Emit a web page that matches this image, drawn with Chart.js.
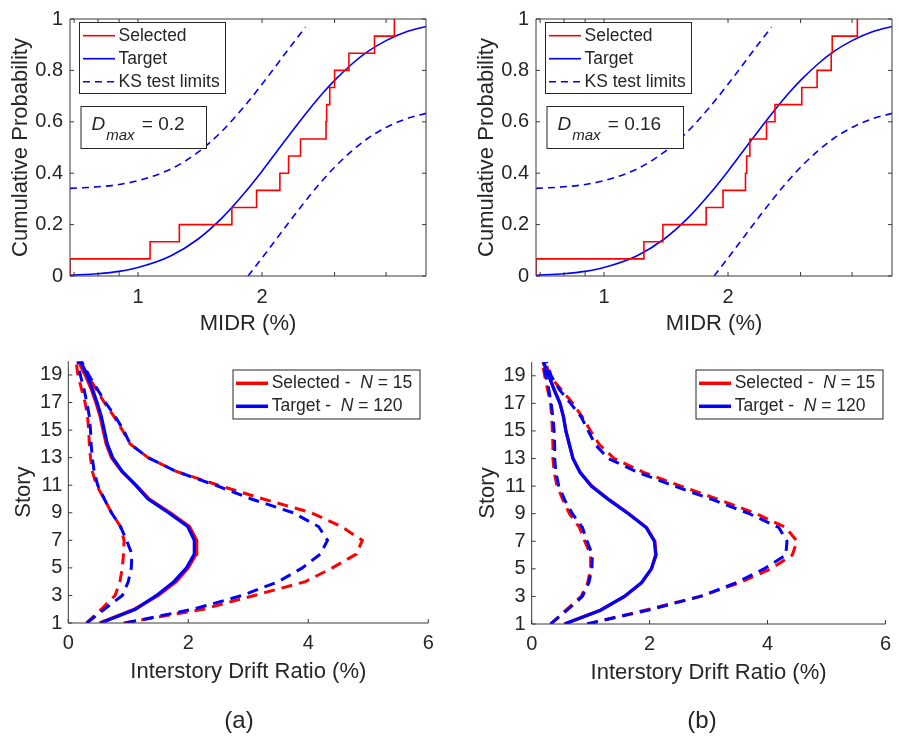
<!DOCTYPE html>
<html>
<head>
<meta charset="utf-8">
<script src="https://cdn.jsdelivr.net/npm/chart.js@4.4.1/dist/chart.umd.min.js"></script>
<style>
body { margin: 0; background: #fff; overflow: hidden; }
#wrap { position: relative; width: 899px; height: 738px; }
canvas { position: absolute; }
.tag { position: absolute; font-family: "Liberation Sans", Arial, sans-serif; font-size: 24px; color: #262626; transform: translate(-50%, -50%); }
</style>
</head>
<body>
<div id="wrap">
  <canvas id="cdfA" width="450" height="345" style="left:0;top:0"></canvas>
  <canvas id="cdfB" width="433" height="345" style="left:466px;top:0"></canvas>
  <canvas id="prfA" width="450" height="398" style="left:0;top:340px"></canvas>
  <canvas id="prfB" width="436" height="398" style="left:463px;top:340px"></canvas>
  <div class="tag" style="left:239px;top:720px">(a)</div>
  <div class="tag" style="left:702px;top:720px">(b)</div>
</div>
<script>
// ---- CDF panels: MIDR (%) on a log axis ----
var midrMin = 0.684, midrMax = 5;
var midrTicks = [0.7, 0.8, 0.9, 1, 2, 3, 4];
var midrLabels = [1, 2];
var probTicks = [0, 0.2, 0.4, 0.6, 0.8, 1];

var targetX = [0.684, 0.8, 0.9, 1.0, 1.2, 1.4, 1.6, 1.8, 2.0, 2.2, 2.4, 2.6, 2.8, 3.0, 3.3, 3.6, 4.0, 4.5, 5.0];
var targetP = [0.003, 0.009, 0.018, 0.033, 0.078, 0.144, 0.226, 0.317, 0.408, 0.496, 0.576, 0.647, 0.709, 0.761, 0.824, 0.872, 0.916, 0.951, 0.971];

var ksUpperX = [0.684, 0.8, 0.9, 1.0, 1.2, 1.4, 1.6, 1.8, 2.0, 2.2, 2.4, 2.55];
var ksUpperP = [0.341, 0.347, 0.356, 0.371, 0.416, 0.482, 0.564, 0.655, 0.746, 0.834, 0.914, 0.968];
var ksLowerX = [1.85, 2.0, 2.2, 2.4, 2.6, 2.8, 3.0, 3.3, 3.6, 4.0, 4.5, 5.0];
var ksLowerP = [0.0, 0.070, 0.158, 0.238, 0.309, 0.371, 0.423, 0.486, 0.534, 0.578, 0.613, 0.633];

// MIDR of the 15 selected records, sorted
var selectedA = [0.684, 1.07, 1.26, 1.69, 1.94, 2.21, 2.32, 2.48, 2.86, 2.87, 2.92, 3.0, 3.25, 3.75, 4.19];
var selectedB = [0.684, 1.25, 1.39, 1.77, 1.945, 2.205, 2.22, 2.26, 2.48, 2.6, 3.02, 3.29, 3.56, 3.58, 4.12];
var dmaxA = '0.2';
var dmaxB = '0.16';

// ---- Story drift profiles ----
var stories = [1, 2, 3, 4, 5, 6, 7, 8, 9, 10, 11, 12, 13, 14, 15, 16, 17, 18, 19, 20];
var storyTicks = [1, 3, 5, 7, 9, 11, 13, 15, 17, 19];
var driftTicks = [0, 2, 4, 6];
var nSelected = 15, nTarget = 120;

var tgtMedA = [0.54, 1.12, 1.47, 1.76, 1.97, 2.10, 2.10, 1.99, 1.67, 1.33, 1.12, 0.90, 0.74, 0.65, 0.60, 0.55, 0.48, 0.40, 0.31, 0.20];
var selMedA = [0.52, 1.10, 1.50, 1.80, 2.00, 2.13, 2.14, 2.02, 1.70, 1.35, 1.13, 0.89, 0.72, 0.63, 0.58, 0.53, 0.46, 0.38, 0.28, 0.17];
var tgtLoA  = [0.31, 0.60, 0.90, 1.00, 1.05, 1.06, 0.97, 0.87, 0.72, 0.60, 0.49, 0.43, 0.40, 0.38, 0.37, 0.35, 0.31, 0.26, 0.20, 0.16];
var selLoA  = [0.30, 0.55, 0.78, 0.86, 0.90, 0.92, 0.93, 0.87, 0.72, 0.60, 0.47, 0.40, 0.37, 0.35, 0.34, 0.32, 0.28, 0.22, 0.16, 0.13];
var tgtHiA  = [0.95, 2.08, 2.90, 3.50, 3.90, 4.20, 4.32, 4.17, 3.75, 3.05, 2.45, 1.80, 1.33, 1.03, 0.92, 0.78, 0.62, 0.48, 0.34, 0.22];
var selHiA  = [0.92, 2.25, 3.10, 3.95, 4.40, 4.80, 4.90, 4.55, 4.05, 3.25, 2.50, 1.80, 1.33, 1.03, 0.90, 0.76, 0.60, 0.46, 0.32, 0.20];

var tgtMedB = [0.56, 1.17, 1.57, 1.86, 2.03, 2.11, 2.08, 1.94, 1.64, 1.31, 1.01, 0.82, 0.70, 0.64, 0.58, 0.54, 0.48, 0.38, 0.29, 0.20];
var selMedB = [0.55, 1.16, 1.58, 1.87, 2.03, 2.10, 2.09, 1.95, 1.65, 1.32, 1.02, 0.82, 0.70, 0.64, 0.58, 0.54, 0.48, 0.38, 0.29, 0.19];
var tgtLoB  = [0.32, 0.60, 0.86, 0.97, 1.02, 1.03, 0.94, 0.86, 0.69, 0.56, 0.46, 0.41, 0.39, 0.39, 0.38, 0.36, 0.33, 0.29, 0.24, 0.19];
var selLoB  = [0.32, 0.58, 0.84, 0.95, 1.00, 1.00, 0.90, 0.81, 0.64, 0.53, 0.43, 0.38, 0.36, 0.36, 0.35, 0.34, 0.32, 0.27, 0.22, 0.18];
var tgtHiB  = [0.94, 1.97, 2.86, 3.47, 3.94, 4.31, 4.33, 4.19, 3.69, 3.08, 2.42, 1.80, 1.30, 1.08, 0.96, 0.84, 0.66, 0.47, 0.33, 0.25];
var selHiB  = [0.94, 1.92, 2.86, 3.53, 4.06, 4.42, 4.50, 4.31, 3.81, 3.19, 2.53, 1.90, 1.40, 1.15, 1.00, 0.86, 0.70, 0.50, 0.30, 0.24];

var FONT = '"Liberation Sans", Arial, Helvetica, sans-serif';
var INK = '#262626';
var RED = '#ff0000', BLUE = '#0000ff';
Chart.defaults.font.family = FONT;
Chart.defaults.color = INK;

function pts(xs, ys) {
  return xs.map(function(x, i){ return {x: x, y: ys[i]}; });
}
function ecdf(vals) {
  var out = [{x: vals[0], y: 0}];
  vals.forEach(function(v, i){ out.push({x: v, y: (i + 1) / vals.length}); });
  return out;
}
function profile(drift) {
  return drift.map(function(d, i){ return {x: d, y: stories[i]}; });
}

// axes box, inward tick marks, legend and text boxes
function decor(cfg) {
  return {
    id: 'decor',
    afterDraw: function(chart) {
      var ctx = chart.ctx, a = chart.chartArea;
      var xs = chart.scales.x, ys = chart.scales.y;
      var L = 4;
      ctx.save();
      ctx.strokeStyle = '#3a3a3a';
      ctx.lineWidth = 1;
      ctx.beginPath();
      ctx.moveTo(a.left, a.top);
      ctx.lineTo(a.left, a.bottom);
      ctx.lineTo(a.right, a.bottom);
      if (cfg.box) { ctx.lineTo(a.right, a.top); ctx.closePath(); }
      xs.ticks.forEach(function(t){
        var px = xs.getPixelForValue(t.value);
        ctx.moveTo(px, a.bottom); ctx.lineTo(px, a.bottom - L);
        if (cfg.box) { ctx.moveTo(px, a.top); ctx.lineTo(px, a.top + L); }
      });
      ys.ticks.forEach(function(t){
        var py = ys.getPixelForValue(t.value);
        ctx.moveTo(a.left, py); ctx.lineTo(a.left + L, py);
        if (cfg.box) { ctx.moveTo(a.right, py); ctx.lineTo(a.right - L, py); }
      });
      ctx.stroke();

      // legend
      var lg = cfg.legend;
      ctx.fillStyle = '#fff';
      ctx.fillRect(lg.x, lg.y, lg.w, lg.h);
      ctx.strokeStyle = INK;
      ctx.strokeRect(lg.x + 0.5, lg.y + 0.5, lg.w, lg.h);
      ctx.textBaseline = 'middle';
      lg.rows.forEach(function(r){
        ctx.beginPath();
        ctx.setLineDash(r.dash || []);
        ctx.lineWidth = r.width;
        ctx.strokeStyle = r.color;
        ctx.moveTo(lg.lx0, r.y); ctx.lineTo(lg.lx1, r.y);
        ctx.stroke();
        ctx.setLineDash([]);
        var x = lg.tx;
        ctx.fillStyle = INK;
        r.parts.forEach(function(p){
          ctx.font = (p.it ? 'italic ' : '') + '17.5px ' + FONT;
          ctx.fillText(p.t, x, r.y);
          x += ctx.measureText(p.t).width;
        });
      });

      // D_max box
      if (cfg.dmax) {
        var d = cfg.dmax;
        ctx.fillStyle = '#fff';
        ctx.fillRect(d.x, d.y, d.w, d.h);
        ctx.strokeStyle = INK;
        ctx.lineWidth = 1;
        ctx.strokeRect(d.x + 0.5, d.y + 0.5, d.w, d.h);
        ctx.fillStyle = INK;
        ctx.textBaseline = 'alphabetic';
        var tx = d.x + 11;
        ctx.font = 'italic 19px ' + FONT;
        ctx.fillText('D', tx, d.y + 24);
        tx += ctx.measureText('D').width + 1;
        ctx.font = 'italic 15px ' + FONT;
        ctx.fillText('max', tx, d.y + 33.5);
        tx += ctx.measureText('max').width + 2;
        ctx.font = '19px ' + FONT;
        ctx.fillText(' = ' + d.text, tx, d.y + 24);
      }
      ctx.restore();
    }
  };
}

function cdfChart(id, selected, dmax, dmaxW) {
  return new Chart(document.getElementById(id), {
    type: 'scatter',
    data: {
      datasets: [
        { label: 'Selected', data: ecdf(selected), showLine: true, stepped: 'before',
          borderColor: RED, borderWidth: 1.6, pointRadius: 0, order: 0 },
        { label: 'Target', data: pts(targetX, targetP), showLine: true, cubicInterpolationMode: 'monotone',
          borderColor: BLUE, borderWidth: 1.6, pointRadius: 0, order: 1 },
        { label: 'KS test limits', data: pts(ksUpperX, ksUpperP), showLine: true, cubicInterpolationMode: 'monotone',
          borderColor: BLUE, borderWidth: 1.6, borderDash: [7, 5], pointRadius: 0, order: 2 },
        { label: 'KS lower', data: pts(ksLowerX, ksLowerP), showLine: true, cubicInterpolationMode: 'monotone',
          borderColor: BLUE, borderWidth: 1.6, borderDash: [7, 5], pointRadius: 0, order: 3 }
      ]
    },
    options: {
      responsive: false,
      animation: false,
      layout: { padding: { left: 0, top: 14, right: id === 'cdfA' ? 24 : 7, bottom: 0 } },
      plugins: { legend: { display: false }, tooltip: { enabled: false } },
      scales: {
        x: {
          type: 'logarithmic', min: midrMin, max: midrMax,
          grid: { display: false, drawTicks: false }, border: { display: false },
          afterBuildTicks: function(s){ s.ticks = midrTicks.map(function(v){ return {value: v}; }); },
          afterFit: function(s){ s.height = 69; },
          ticks: { autoSkip: false, maxRotation: 0, padding: 9, font: { size: 20 },
                   callback: function(v){ return midrLabels.indexOf(v) >= 0 ? String(v) : ''; } },
          title: { display: true, text: 'MIDR (%)', font: { size: 22 }, padding: { top: 0, bottom: 8 } }
        },
        y: {
          min: 0, max: 1,
          grid: { display: false, drawTicks: false }, border: { display: false },
          afterBuildTicks: function(s){ s.ticks = probTicks.map(function(v){ return {value: v}; }); },
          afterFit: function(s){ s.width = 70; },
          ticks: { autoSkip: false, padding: 7, font: { size: 20 },
                   callback: function(v){ return String(v); } },
          title: { display: true, text: 'Cumulative Probability', font: { size: 22 }, padding: { top: 8, bottom: 0 } }
        }
      }
    },
    plugins: [decor({
      box: true,
      legend: { x: 79, y: 22, w: 146, h: 71, lx0: 83, lx1: 115, tx: 118.5, rows: [
        { color: RED, width: 1.6, y: 35.7, parts: [{t: 'Selected'}] },
        { color: BLUE, width: 1.6, y: 58.7, parts: [{t: 'Target'}] },
        { color: BLUE, width: 1.6, dash: [7, 5], y: 81.7, parts: [{t: 'KS test limits'}] }
      ]},
      dmax: { x: 80.5, y: 106, w: dmaxW, h: 42, text: dmax }
    })]
  });
}

function profileChart(id, series, pad, yWidth, yTitlePad) {
  var solid = { showLine: true, pointRadius: 0, borderWidth: 3.2, tension: 0 };
  var dashed = { showLine: true, pointRadius: 0, borderWidth: 3, borderDash: [11, 7], tension: 0 };
  function ds(base, color, drift, order) {
    return Object.assign({}, base, { data: profile(drift), borderColor: color, order: order });
  }
  return new Chart(document.getElementById(id), {
    type: 'scatter',
    data: {
      datasets: [
        ds(solid, RED, series.selMed, 3),
        ds(dashed, RED, series.selLo, 4),
        ds(dashed, RED, series.selHi, 5),
        ds(solid, BLUE, series.tgtMed, 0),
        ds(dashed, BLUE, series.tgtLo, 1),
        ds(dashed, BLUE, series.tgtHi, 2)
      ]
    },
    options: {
      responsive: false,
      animation: false,
      layout: { padding: pad },
      plugins: { legend: { display: false }, tooltip: { enabled: false } },
      scales: {
        x: {
          type: 'linear', min: 0, max: 6,
          grid: { display: false, drawTicks: false }, border: { display: false },
          afterBuildTicks: function(s){ s.ticks = driftTicks.map(function(v){ return {value: v}; }); },
          afterFit: function(s){ s.height = 64; },
          ticks: { autoSkip: false, maxRotation: 0, padding: 8, font: { size: 20 } },
          title: { display: true, text: 'Interstory Drift Ratio (%)', font: { size: 22 }, padding: { top: 0, bottom: 2 } }
        },
        y: {
          type: 'linear', min: 1, max: 20,
          grid: { display: false, drawTicks: false }, border: { display: false },
          afterBuildTicks: function(s){ s.ticks = storyTicks.map(function(v){ return {value: v}; }); },
          afterFit: function(s){ s.width = yWidth; },
          ticks: { autoSkip: false, padding: 6, font: { size: 20 } },
          title: { display: true, text: 'Story', font: { size: 22 }, padding: { top: yTitlePad, bottom: 0 } }
        }
      }
    },
    plugins: [decor({
      box: false,
      legend: { x: 232.5, y: 29.5, w: 187, h: 49, lx0: 236, lx1: 268, tx: 271.7, rows: [
        { color: RED, width: 3.5, y: 43.3, parts: [{t: 'Selected -  '}, {t: 'N', it: true}, {t: ' = ' + nSelected}] },
        { color: BLUE, width: 3.5, y: 66.3, parts: [{t: 'Target -  '}, {t: 'N', it: true}, {t: ' = ' + nTarget}] }
      ]}
    })]
  });
}

cdfChart('cdfA', selectedA, dmaxA, 125.5);
cdfChart('cdfB', selectedB, dmaxB, 136.5);

profileChart('prfA', { tgtMed: tgtMedA, selMed: selMedA, tgtLo: tgtLoA, selLo: selLoA, tgtHi: tgtHiA, selHi: selHiA },
  { left: 0, top: 21.2, right: 21.7, bottom: 51 }, 68.3, 10.8);
profileChart('prfB', { tgtMed: tgtMedB, selMed: selMedB, tgtLo: tgtLoB, selLo: selLoB, tgtHi: tgtHiB, selHi: selHiB },
  { left: 0, top: 22, right: 7.3, bottom: 50 }, 68.7, 11.8);
</script>
</body>
</html>
